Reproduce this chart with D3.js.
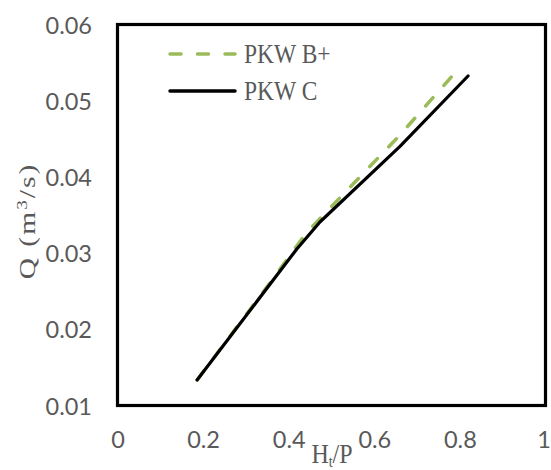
<!DOCTYPE html>
<html>
<head>
<meta charset="utf-8">
<script src="https://cdn.jsdelivr.net/npm/d3@7"></script>
<style>
  html, body { margin: 0; padding: 0; background: #fff; }
  svg { display: block; }
</style>
</head>
<body>
<svg id="chart" width="551" height="470"></svg>
<script>
// Discharge Q against relative head Ht/P for two piano-key weir layouts
const seriesNames = ["PKW B+", "PKW C"];
const pkwBplusHP = [0.186, 0.356, 0.441, 0.660, 0.784];
const pkwBplusQ  = [0.01335, 0.02608, 0.03264, 0.04550, 0.05337];
const pkwCHP     = [0.186, 0.419, 0.473, 0.660, 0.819];
const pkwCQ      = [0.01335, 0.03054, 0.03408, 0.04400, 0.05324];
const xTicks = [0, 0.2, 0.4, 0.6, 0.8, 1];
const xTickLabels = ["0", "0.2", "0.4", "0.6", "0.8", "1"];
const yTicks = [0.01, 0.02, 0.03, 0.04, 0.05, 0.06];
const yTickLabels = ["0.01", "0.02", "0.03", "0.04", "0.05", "0.06"];

const svg = d3.select("#chart");
const x = d3.scaleLinear().domain([0, 1]).range([117.5, 545.5]);
const y = d3.scaleLinear().domain([0.01, 0.06]).range([405.5, 24.5]);

const grey = "#595959";
const green = "#9BBB59";
const tickFont = "Lato, 'Open Sans', sans-serif";
const serif = "'Liberation Serif', 'Times New Roman', serif";

// Tick labels (axes drawn without tick marks or domain line)
const xAxis = d3.axisBottom(x).tickValues(xTicks)
  .tickFormat((d, i) => xTickLabels[i]).tickSize(0).tickPadding(0);
const gx = svg.append("g").call(xAxis);
gx.select(".domain").remove();
gx.selectAll("text")
  .attr("y", 448).attr("dy", null)
  .attr("fill", grey).style("font-family", tickFont).style("font-size", "23.5px");
// keep the last label inside the canvas
gx.selectAll(".tick").filter(d => d === 1).select("text")
  .attr("text-anchor", "end").attr("x", 5);

const yAxis = d3.axisLeft(y).tickValues(yTicks)
  .tickFormat((d, i) => yTickLabels[i]).tickSize(0).tickPadding(0);
const gy = svg.append("g").call(yAxis);
gy.select(".domain").remove();
gy.selectAll("text")
  .attr("x", 92).attr("dy", "8.5px")
  .attr("fill", grey).style("font-family", tickFont).style("font-size", "23.5px");

// Series lines
const line = d3.line().x(d => x(d[0])).y(d => y(d[1]));
const bData = pkwBplusHP.map((v, i) => [v, pkwBplusQ[i]]);
const cData = pkwCHP.map((v, i) => [v, pkwCQ[i]]);

svg.append("path").datum(bData).attr("d", line)
  .attr("fill", "none").attr("stroke", green).attr("stroke-width", 3.5)
  .attr("stroke-dasharray", "11,16.5").attr("stroke-linecap", "round")
  .attr("stroke-linejoin", "round");
svg.append("path").datum(cData).attr("d", line)
  .attr("fill", "none").attr("stroke", "#000").attr("stroke-width", 3.2)
  .attr("stroke-linecap", "round").attr("stroke-linejoin", "round");

// Plot frame
svg.append("rect")
  .attr("x", x(0)).attr("y", y(0.06))
  .attr("width", x(1) - x(0)).attr("height", y(0.01) - y(0.06))
  .attr("fill", "none").attr("stroke", "#000").attr("stroke-width", 3.2);

// Legend
const legend = svg.append("g");
const legendRows = [
  { name: seriesNames[0], color: green, dash: "11,16.5", y: 54 },
  { name: seriesNames[1], color: "#000", dash: null, y: 91 }
];
legendRows.forEach(r => {
  legend.append("line")
    .attr("x1", 170).attr("x2", 235).attr("y1", r.y).attr("y2", r.y)
    .attr("stroke", r.color).attr("stroke-width", 3.5)
    .attr("stroke-linecap", "round")
    .attr("stroke-dasharray", r.dash);
  legend.append("g").attr("transform", `translate(244,${r.y + 8.5}) scale(1,1.12)`)
    .append("text")
    .attr("fill", grey).style("font-family", serif).style("font-size", "23.5px")
    .text(r.name);
});

// Axis titles
const xt = svg.append("g").attr("transform", "translate(332,463) scale(1,1.12)")
  .append("text").attr("text-anchor", "middle")
  .attr("fill", grey).style("font-family", serif).style("font-size", "24px");
xt.append("tspan").text("H");
xt.append("tspan").attr("dy", 4).style("font-size", "14px").text("t");
xt.append("tspan").attr("dy", -4).text("/P");

const yt = svg.append("g").attr("transform", "translate(35,221) rotate(-90) scale(1.28,1)")
  .append("text").attr("text-anchor", "middle")
  .attr("fill", grey).style("font-family", serif).style("font-size", "23px")
  .style("letter-spacing", "1.6px");
yt.append("tspan").text("Q (m");
yt.append("tspan").attr("dy", -8).style("font-size", "15px").text("3");
yt.append("tspan").attr("dy", 8).text("/s)");
</script>
</body>
</html>
